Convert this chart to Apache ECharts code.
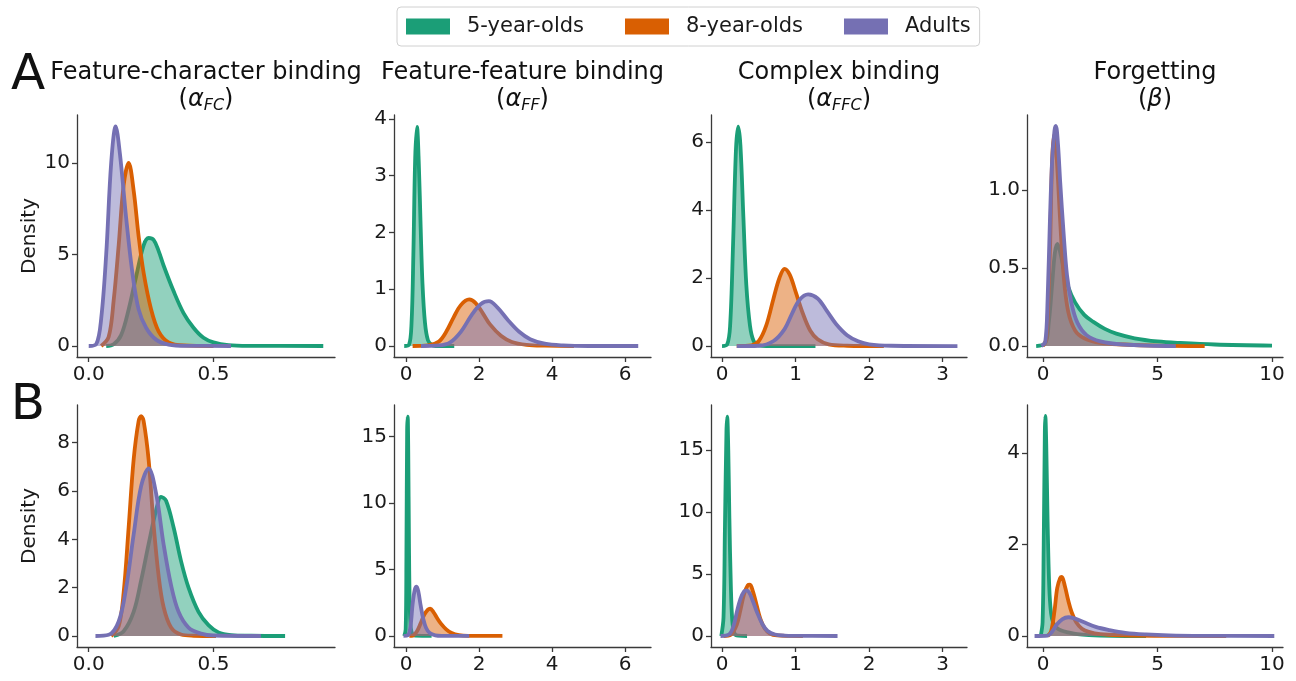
<!DOCTYPE html>
<html>
<head>
<meta charset="utf-8">
<script src="https://cdn.jsdelivr.net/npm/echarts@6/dist/echarts.min.js"></script>
<style>
  html, body { margin: 0; padding: 0; background: #fff; }
  #main { width: 1296px; height: 681px; }
</style>
</head>
<body>
<div id="main"></div>
<script>
// groups
var groups = ["5-year-olds", "8-year-olds", "Adults"];
var colors = ["#1b9e77", "#d95f02", "#7570b3"];

// column titles
var titles = ["Feature-character binding", "Feature-feature binding", "Complex binding", "Forgetting"];
var symbols = [["α", "FC"], ["α", "FF"], ["α", "FFC"], ["β", ""]];

// tick labels
var xTicks = [[0, 0.5], [0, 2, 4, 6], [0, 1, 2, 3], [0, 5, 10]];
var yTicksA = [[0, 5, 10], [0, 1, 2, 3, 4], [0, 2, 4, 6], [0, 0.5, 1.0]];
var yTicksB = [[0, 2, 4, 6, 8], [0, 5, 10, 15], [0, 5, 10, 15], [0, 2, 4]];

// row A densities [x, density]
var fc5A = [[0.07,0],[0.1,0.1],[0.13,0.6],[0.16,2],[0.19,3.8],[0.22,5.5],[0.24,5.9],[0.26,5.8],[0.28,5.2],[0.3,4.4],[0.34,3.0],[0.38,1.8],[0.42,1.0],[0.46,0.45],[0.5,0.2],[0.56,0.05],[0.65,0.01],[0.94,0]];
var fc8A = [[0.05,0],[0.08,0.5],[0.1,2.5],[0.12,5.5],[0.14,8.8],[0.16,10],[0.18,8.5],[0.2,6],[0.22,4],[0.25,2],[0.28,0.8],[0.32,0.2],[0.38,0.03],[0.5,0]];
var fcAdA = [[0.0,0],[0.03,0.1],[0.05,1.5],[0.07,5],[0.09,10],[0.108,12],[0.125,10.5],[0.15,7],[0.175,4],[0.2,2],[0.23,1],[0.27,0.35],[0.32,0.08],[0.4,0.01],[0.57,0]];

var ff5A = [[-0.05,0],[0.08,0.02],[0.15,0.4],[0.2,1.6],[0.25,3.3],[0.3,3.86],[0.35,3.2],[0.4,2.1],[0.45,1.1],[0.52,0.4],[0.6,0.1],[0.7,0.02],[0.8,0],[1.32,0]];
var ff8A = [[0.18,0],[0.6,0.01],[0.9,0.08],[1.1,0.25],[1.3,0.5],[1.5,0.72],[1.73,0.82],[1.9,0.76],[2.1,0.58],[2.3,0.38],[2.6,0.18],[2.9,0.07],[3.3,0.02],[3.8,0.005],[4.6,0]];
var ffAdA = [[0.41,0],[0.9,0.01],[1.2,0.06],[1.5,0.25],[1.8,0.55],[2.05,0.74],[2.27,0.79],[2.5,0.68],[2.8,0.45],[3.1,0.25],[3.4,0.12],[3.8,0.04],[4.3,0.01],[5,0],[6.36,0]];

var ffc5A = [[0.0,0],[0.07,0.05],[0.11,0.6],[0.15,3.0],[0.19,5.8],[0.22,6.45],[0.25,5.9],[0.29,3.8],[0.33,1.8],[0.38,0.6],[0.43,0.15],[0.5,0.02],[0.6,0],[1.27,0]];
var ffc8A = [[0.2,0],[0.4,0.02],[0.5,0.15],[0.6,0.6],[0.7,1.4],[0.78,2.0],[0.85,2.27],[0.92,2.1],[1.0,1.6],[1.1,0.95],[1.2,0.45],[1.3,0.2],[1.45,0.05],[1.7,0.01],[2.2,0]];
var ffcAdA = [[0.2,0],[0.5,0.01],[0.7,0.15],[0.85,0.5],[0.95,0.95],[1.05,1.35],[1.17,1.52],[1.3,1.4],[1.42,1.05],[1.55,0.65],[1.7,0.32],[1.85,0.14],[2.0,0.05],[2.3,0.01],[3.2,0]];

var fg5A = [[-0.3,0],[0.1,0.02],[0.25,0.15],[0.4,0.4],[0.52,0.6],[0.63,0.655],[0.75,0.6],[0.9,0.5],[1.1,0.38],[1.4,0.28],[1.8,0.2],[2.2,0.155],[2.7,0.11],[3.2,0.08],[4.0,0.05],[5.0,0.03],[6.0,0.02],[7.5,0.01],[10,0.003]];
var fg8A = [[0.0,0],[0.15,0.05],[0.3,0.6],[0.4,1.2],[0.5,1.36],[0.6,1.2],[0.75,0.8],[0.9,0.45],[1.1,0.22],[1.4,0.1],[1.8,0.05],[2.5,0.02],[3.5,0.01],[5,0.003],[7.06,0]];
var fgAdA = [[-0.07,0],[0.1,0.03],[0.2,0.3],[0.3,0.8],[0.4,1.2],[0.5,1.38],[0.56,1.41],[0.65,1.3],[0.75,1.05],[0.9,0.72],[1.05,0.45],[1.25,0.27],[1.5,0.15],[1.9,0.07],[2.5,0.03],[3.5,0.01],[5.8,0]];

// row B densities [x, density]
var fc5B = [[0.1,0],[0.14,0.2],[0.18,1.0],[0.21,2.3],[0.24,3.8],[0.27,5.2],[0.29,5.76],[0.31,5.6],[0.34,4.5],[0.37,3.1],[0.4,2.0],[0.44,1.0],[0.48,0.45],[0.52,0.15],[0.57,0.04],[0.65,0.01],[0.787,0]];
var fc8B = [[0.09,0],[0.12,0.4],[0.14,1.8],[0.16,4.5],[0.18,7.3],[0.2,8.9],[0.21,9.1],[0.22,8.9],[0.24,7.3],[0.26,4.6],[0.28,2.5],[0.3,1.2],[0.33,0.35],[0.37,0.06],[0.42,0.01],[0.51,0]];
var fcAdB = [[0.027,0],[0.08,0.05],[0.12,0.6],[0.15,2],[0.18,4.2],[0.21,6.2],[0.24,6.94],[0.27,5.9],[0.3,3.8],[0.33,2.1],[0.36,1.0],[0.4,0.35],[0.45,0.1],[0.5,0.02],[0.69,0]];

var ff5B = [[-0.05,0],[-0.01,0.5],[0.01,6],[0.03,15.5],[0.045,16.5],[0.06,14],[0.08,7],[0.1,2.5],[0.13,0.6],[0.18,0.1],[0.25,0.02],[0.7,0]];
var ff8B = [[0.09,0],[0.2,0.05],[0.3,0.35],[0.4,0.95],[0.5,1.6],[0.6,1.98],[0.66,2.05],[0.75,1.8],[0.85,1.35],[0.95,0.95],[1.1,0.5],[1.25,0.22],[1.45,0.06],[1.7,0.01],[2.64,0]];
var ffAdB = [[-0.07,0],[0.05,0.05],[0.12,0.7],[0.18,2.4],[0.24,3.5],[0.29,3.72],[0.34,3.3],[0.4,2.3],[0.47,1.3],[0.55,0.6],[0.65,0.22],[0.8,0.05],[1.0,0.01],[1.73,0]];

var ffc5B = [[-0.01,0],[0.02,1.5],[0.04,9],[0.06,16.5],[0.07,17.7],[0.085,15],[0.1,9.5],[0.12,4],[0.14,1.2],[0.17,0.2],[0.22,0.02],[0.34,0]];
var ffc8B = [[0.02,0],[0.12,0.1],[0.2,0.9],[0.25,2.1],[0.3,3.4],[0.35,4.1],[0.38,4.15],[0.42,3.6],[0.47,2.5],[0.52,1.4],[0.58,0.6],[0.65,0.2],[0.75,0.04],[0.9,0.01],[1.1,0]];
var ffcAdB = [[-0.02,0],[0.1,0.15],[0.16,0.9],[0.2,1.9],[0.25,3.0],[0.3,3.6],[0.33,3.68],[0.37,3.5],[0.42,2.8],[0.48,1.85],[0.55,0.95],[0.62,0.4],[0.72,0.12],[0.85,0.03],[1.0,0.01],[1.57,0]];

var fg5B = [[-0.1,0],[-0.02,0.3],[0.03,2],[0.08,4.5],[0.1,4.81],[0.14,4.2],[0.2,2.5],[0.27,1.1],[0.35,0.5],[0.45,0.28],[0.6,0.18],[0.8,0.12],[1.1,0.08],[1.5,0.04],[2.0,0.02],[3,0.005],[4.5,0]];
var fg8B = [[0.2,0],[0.35,0.1],[0.5,0.55],[0.62,1.05],[0.75,1.27],[0.82,1.29],[0.95,1.1],[1.1,0.78],[1.25,0.52],[1.45,0.3],[1.7,0.16],[2.0,0.09],[2.5,0.04],[3.5,0.015],[5,0.005],[8,0]];
var fgAdB = [[-0.37,0],[0.2,0.01],[0.4,0.1],[0.6,0.25],[0.85,0.37],[1.1,0.41],[1.4,0.38],[1.8,0.3],[2.3,0.2],[2.9,0.13],[3.6,0.07],[4.5,0.035],[5.5,0.015],[7,0.005],[10.1,0]];

var panelsA = [[fc5A, fc8A, fcAdA], [ff5A, ff8A, ffAdA], [ffc5A, ffc8A, ffcAdA], [fg5A, fg8A, fgAdA]];
var panelsB = [[fc5B, fc8B, fcAdB], [ff5B, ff8B, ffAdB], [ffc5B, ffc8B, ffcAdB], [fg5B, fg8B, fgAdB]];

var FONT = "DejaVu Sans";
var myChart = echarts.init(document.getElementById("main"));

// layout
var cols = [{ left: 77, w: 258 }, { left: 394, w: 257 }, { left: 711, w: 256 }, { left: 1027, w: 256 }];
var rows = [{ top: 115, h: 242 }, { top: 405, h: 242 }];
var xRange = [[-0.047, 0.987], [-0.33, 6.71], [-0.15, 3.33], [-0.7, 10.48]];
var yRangeA = [[-0.6, 12.62], [-0.194, 4.07], [-0.32, 6.79], [-0.07, 1.48]];
var yRangeB = [[-0.455, 9.56], [-0.83, 17.38], [-0.89, 18.65], [-0.24, 5.05]];

var grid = [], xAxis = [], yAxis = [], series = [];

function fmt(v, decimals) {
  return decimals ? v.toFixed(1) : String(v);
}

for (var r = 0; r < 2; r++) {
  for (var c = 0; c < 4; c++) {
    var idx = r * 4 + c;
    grid.push({ left: cols[c].left, top: rows[r].top, width: cols[c].w, height: rows[r].h });
    var xd = c === 0;
    xAxis.push({
      type: "value", gridIndex: idx, min: xRange[c][0], max: xRange[c][1],
      splitLine: { show: false },
      axisLine: { onZero: false, lineStyle: { color: "#3a3a3a", width: 1.3 } },
      axisTick: { customValues: xTicks[c], length: 5, lineStyle: { color: "#3a3a3a", width: 1.3 } },
      axisLabel: {
        customValues: xTicks[c], fontFamily: FONT, fontSize: 20, color: "#1a1a1a", margin: 8,
        formatter: (function (d) { return function (v) { return fmt(v, d); }; })(xd)
      }
    });
    var yt = r === 0 ? yTicksA[c] : yTicksB[c];
    var yr = r === 0 ? yRangeA[c] : yRangeB[c];
    var yd = r === 0 && c === 3;
    yAxis.push({
      type: "value", gridIndex: idx, min: yr[0], max: yr[1],
      splitLine: { show: false },
      axisLine: { show: true, onZero: false, lineStyle: { color: "#3a3a3a", width: 1.3 } },
      axisTick: { show: true, customValues: yt, length: 5, lineStyle: { color: "#3a3a3a", width: 1.3 } },
      axisLabel: {
        customValues: yt, fontFamily: FONT, fontSize: 20, color: "#1a1a1a", margin: 7,
        formatter: (function (d) { return function (v) { return fmt(v, d); }; })(yd)
      }
    });
    var sets = r === 0 ? panelsA[c] : panelsB[c];
    for (var g = 0; g < 3; g++) {
      series.push({
        name: groups[g], type: "line", xAxisIndex: idx, yAxisIndex: idx,
        data: sets[g], smooth: 0.35, showSymbol: false, symbol: "none",
        z: 2 + g,
        itemStyle: { color: colors[g] },
        lineStyle: { color: colors[g], width: 3.8 },
        areaStyle: { color: colors[g], opacity: 0.48 }
      });
    }
  }
}

// texts: panel letters, column titles, Density labels
var graphic = [
  { type: "text", x: 28, y: 76, style: { text: "A", font: "50px '" + FONT + "'", fill: "#111", align: "center", verticalAlign: "middle" } },
  { type: "text", x: 28, y: 406, style: { text: "B", font: "50px '" + FONT + "'", fill: "#111", align: "center", verticalAlign: "middle" } },
  { type: "text", x: 30, y: 236, rotation: Math.PI / 2, style: { text: "Density", font: "20px '" + FONT + "'", fill: "#1a1a1a", align: "center", verticalAlign: "middle" } },
  { type: "text", x: 30, y: 526, rotation: Math.PI / 2, style: { text: "Density", font: "20px '" + FONT + "'", fill: "#1a1a1a", align: "center", verticalAlign: "middle" } }
];
for (var k = 0; k < 4; k++) {
  var cx = cols[k].left + cols[k].w / 2;
  graphic.push({ type: "text", x: cx, y: 73, style: { text: titles[k], font: "24px '" + FONT + "'", fill: "#111", align: "center", verticalAlign: "middle" } });
  graphic.push({
    type: "text", x: cx, y: 100,
    style: {
      text: "{p|(}{a|" + symbols[k][0] + "}{s|" + symbols[k][1] + "}{p|)}",
      align: "center", verticalAlign: "middle",
      rich: {
        p: { fontFamily: FONT, fontSize: 24, lineHeight: 28, fill: "#111", verticalAlign: "middle" },
        a: { fontFamily: FONT, fontSize: 24, fontStyle: "italic", lineHeight: 28, fill: "#111", verticalAlign: "middle" },
        s: { fontFamily: FONT, fontSize: 16, fontStyle: "italic", lineHeight: 16, fill: "#111", verticalAlign: "bottom" }
      }
    }
  });
}

var option = {
  animation: false,
  backgroundColor: "#ffffff",
  legend: {
    data: groups,
    left: 397, top: 7,
    padding: [9, 9, 9, 9],
    itemWidth: 44, itemHeight: 16, itemGap: 41,
    icon: "rect",
    borderColor: "#d0d0d0", borderWidth: 1, borderRadius: 4,
    itemStyle: { borderWidth: 0 },
    lineStyle: { width: 0 },
    textStyle: { fontFamily: FONT, fontSize: 21, color: "#1a1a1a", padding: [0, 0, 0, 12] }
  },
  grid: grid,
  xAxis: xAxis,
  yAxis: yAxis,
  series: series,
  graphic: graphic
};
myChart.setOption(option, true);
</script>
</body>
</html>
